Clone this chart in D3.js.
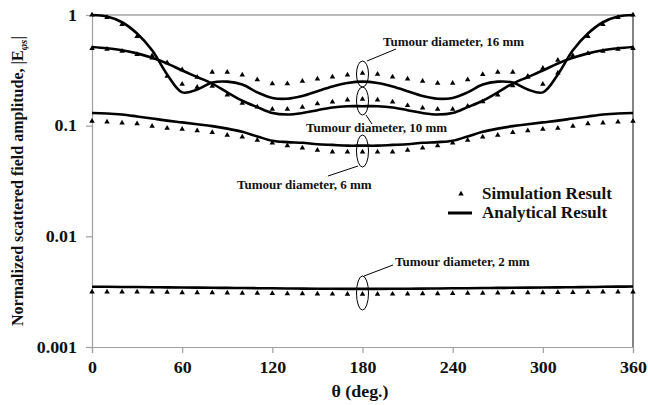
<!DOCTYPE html>
<html>
<head>
<meta charset="utf-8">
<script src="https://cdn.jsdelivr.net/npm/d3@7"></script>
<style>
  body { margin: 0; background: #fff; }
  svg { display: block; }
</style>
</head>
<body>
<svg></svg>
<script>
const width = 648;
const height = 405;
const svg = d3.select("svg").attr("width", width).attr("height", height);

// angles of the samples (deg.)
const theta = [0, 10, 20, 30, 40, 50, 60, 70, 80, 90, 100, 110, 120, 130, 140, 150, 160, 170, 180,
  190, 200, 210, 220, 230, 240, 250, 260, 270, 280, 290, 300, 310, 320, 330, 340, 350, 360];

// analytical result, per tumour diameter
const an16 = [1.0, 0.97, 0.86, 0.68, 0.48, 0.29, 0.2, 0.212, 0.245, 0.25, 0.235, 0.2, 0.178, 0.175, 0.185, 0.205, 0.226, 0.243, 0.25,
  0.243, 0.226, 0.205, 0.185, 0.175, 0.178, 0.2, 0.235, 0.25, 0.245, 0.212, 0.2, 0.29, 0.48, 0.68, 0.86, 0.97, 1.0];
const an10 = [0.514, 0.5, 0.48, 0.45, 0.41, 0.365, 0.315, 0.275, 0.24, 0.2, 0.168, 0.147, 0.13, 0.126, 0.13, 0.138, 0.146, 0.15, 0.15,
  0.15, 0.146, 0.138, 0.13, 0.126, 0.13, 0.147, 0.168, 0.2, 0.24, 0.275, 0.315, 0.365, 0.41, 0.45, 0.48, 0.5, 0.514];
const an6 = [0.13, 0.129, 0.126, 0.121, 0.116, 0.111, 0.107, 0.103, 0.099, 0.094, 0.088, 0.08, 0.073, 0.071, 0.07, 0.068, 0.067, 0.066, 0.066,
  0.066, 0.067, 0.068, 0.07, 0.071, 0.073, 0.08, 0.088, 0.094, 0.099, 0.103, 0.107, 0.111, 0.116, 0.121, 0.126, 0.129, 0.13];
const an2 = [0.0035, 0.0035, 0.00349, 0.00348, 0.00347, 0.00346, 0.00345, 0.00344, 0.00343, 0.00342, 0.00341, 0.0034, 0.00339, 0.00338, 0.00337, 0.00336, 0.00336, 0.00335, 0.00335,
  0.00335, 0.00336, 0.00336, 0.00337, 0.00338, 0.00339, 0.0034, 0.00341, 0.00342, 0.00343, 0.00344, 0.00345, 0.00346, 0.00347, 0.00348, 0.0035, 0.00351, 0.00352];

// simulation result, per tumour diameter
const sim16 = [1.0, 0.95, 0.82, 0.64, 0.43, 0.28, 0.237, 0.223, 0.305, 0.305, 0.287, 0.26, 0.24, 0.24, 0.252, 0.264, 0.276, 0.288, 0.298,
  0.292, 0.276, 0.264, 0.253, 0.242, 0.242, 0.26, 0.29, 0.305, 0.305, 0.275, 0.237, 0.3, 0.43, 0.64, 0.82, 0.95, 1.0];
const sim10 = [0.5, 0.49, 0.47, 0.44, 0.41, 0.37, 0.32, 0.275, 0.228, 0.19, 0.16, 0.148, 0.141, 0.141, 0.147, 0.158, 0.164, 0.171, 0.174,
  0.171, 0.164, 0.152, 0.145, 0.141, 0.141, 0.15, 0.165, 0.19, 0.23, 0.28, 0.33, 0.39, 0.42, 0.45, 0.47, 0.49, 0.5];
const sim6 = [0.11, 0.108, 0.106, 0.104, 0.099, 0.095, 0.093, 0.09, 0.087, 0.082, 0.079, 0.074, 0.07, 0.066, 0.063, 0.06, 0.058, 0.058, 0.058,
  0.058, 0.058, 0.06, 0.063, 0.066, 0.07, 0.074, 0.079, 0.082, 0.087, 0.09, 0.093, 0.095, 0.099, 0.104, 0.106, 0.108, 0.11];
const sim2 = [0.00315, 0.00315, 0.00315, 0.00315, 0.00314, 0.00313, 0.0031, 0.0031, 0.0031, 0.00308, 0.00307, 0.00306, 0.00305, 0.00304, 0.00303, 0.00302, 0.00301, 0.003, 0.003,
  0.003, 0.00301, 0.00302, 0.00303, 0.00304, 0.00305, 0.00306, 0.00307, 0.00308, 0.0031, 0.0031, 0.0031, 0.00311, 0.00312, 0.00313, 0.00314, 0.00315, 0.00315];

const xTicks = [0, 60, 120, 180, 240, 300, 360];
const yTicks = [1, 0.1, 0.01, 0.001];

const annotations = [
  { label: "Tumour diameter, 16 mm", at: 180, cy: 74, ry: 13, line: [[367, 61], [396, 49]], tx: 383, ty: 46 },
  { label: "Tumour diameter, 10 mm", at: 180, cy: 101, ry: 14, line: [[366, 115], [372, 124]], tx: 306, ty: 132 },
  { label: "Tumour diameter, 6 mm", at: 180, cy: 151, ry: 16, line: [[358, 166], [328, 176]], tx: 237, ty: 189 },
  { label: "Tumour diameter, 2 mm", at: 180, cy: 293, ry: 17, line: [[364, 276], [393, 265]], tx: 395, ty: 266 },
];

const margin = { top: 15, right: 15, bottom: 58, left: 92 };
const serif = "'Liberation Serif', 'Times New Roman', serif";

const x = d3.scaleLinear().domain([0, 360]).range([margin.left, width - margin.right]);
const y = d3.scaleLog().domain([0.001, 1]).range([height - margin.bottom, margin.top]);

// frame: top and right border
svg.append("line")
  .attr("x1", x(0)).attr("x2", x(360)).attr("y1", y(1)).attr("y2", y(1))
  .attr("stroke", "#777").attr("stroke-width", 1.2);
svg.append("line")
  .attr("x1", x(360)).attr("x2", x(360)).attr("y1", y(1)).attr("y2", y(0.001))
  .attr("stroke", "#333").attr("stroke-width", 1.2);

// stretch tick text a little, like the reference
const stretch = (sel) => {
  sel.each(function () {
    const t = d3.select(this);
    const tx = +t.attr("x") || 0;
    const ty = +t.attr("y") || 0;
    t.attr("x", 0).attr("y", 0).attr("transform", `translate(${tx},${ty}) scale(1.12,1)`);
  });
};

const xAxis = svg.append("g")
  .attr("transform", `translate(0,${height - margin.bottom})`)
  .call(d3.axisBottom(x).tickValues(xTicks).tickSize(6).tickPadding(9).tickFormat(d3.format("d")));
const yAxis = svg.append("g")
  .attr("transform", `translate(${margin.left},0)`)
  .call(d3.axisLeft(y).tickValues(yTicks).tickSize(6).tickPadding(9).tickFormat((d) => String(d)));

[xAxis, yAxis].forEach((g) => {
  g.select(".domain").attr("stroke", "#a0a0a0").attr("stroke-width", 1.2);
  g.selectAll(".tick line").attr("stroke", "#a0a0a0").attr("stroke-width", 1.2);
  g.selectAll(".tick text")
    .attr("font-family", serif)
    .attr("font-weight", "bold")
    .attr("font-size", 16)
    .attr("fill", "#111");
});
yAxis.selectAll(".tick text").attr("x", -15);
stretch(xAxis.selectAll(".tick text"));
stretch(yAxis.selectAll(".tick text"));

// axis titles
svg.append("text")
  .attr("transform", "translate(360,397) scale(1.12,1)")
  .attr("text-anchor", "middle")
  .attr("font-family", serif).attr("font-weight", "bold").attr("font-size", 16).attr("fill", "#111")
  .text("θ (deg.)");

const yTitle = svg.append("text")
  .attr("transform", "translate(23,181) rotate(-90)")
  .attr("text-anchor", "middle")
  .attr("font-family", serif).attr("font-weight", "bold").attr("font-size", 16).attr("fill", "#111");
yTitle.append("tspan").text("Normalized scattered field amplitude, |E");
yTitle.append("tspan").attr("font-size", 11).attr("font-style", "italic").attr("dy", 4).text("φs");
yTitle.append("tspan").attr("dy", -4).text("|");

// analytical lines
const line = d3.line()
  .x((d, i) => x(theta[i]))
  .y((d) => y(d))
  .curve(d3.curveCatmullRom.alpha(0.5));

[an16, an10, an6, an2].forEach((series) => {
  svg.append("path")
    .datum(series)
    .attr("fill", "none")
    .attr("stroke", "#000")
    .attr("stroke-width", 2.6)
    .attr("d", line);
});

// simulation markers
const tri = d3.symbol().type(d3.symbolTriangle).size(13);
[sim16, sim10, sim6, sim2].forEach((series) => {
  svg.append("g")
    .selectAll("path")
    .data(series)
    .join("path")
    .attr("transform", (d, i) => `translate(${x(theta[i])},${y(d)})`)
    .attr("d", tri)
    .attr("fill", "#000");
});

// annotations
annotations.forEach((a) => {
  svg.append("ellipse")
    .attr("cx", x(a.at)).attr("cy", a.cy).attr("rx", 6).attr("ry", a.ry)
    .attr("fill", "none").attr("stroke", "#000").attr("stroke-width", 1);
  svg.append("line")
    .attr("x1", a.line[0][0]).attr("y1", a.line[0][1])
    .attr("x2", a.line[1][0]).attr("y2", a.line[1][1])
    .attr("stroke", "#000").attr("stroke-width", 1);
  svg.append("text")
    .attr("x", a.tx).attr("y", a.ty)
    .attr("font-family", serif).attr("font-weight", "bold").attr("font-size", 13).attr("fill", "#111")
    .text(a.label);
});

// legend
const legend = svg.append("g");
legend.append("path")
  .attr("transform", "translate(461,194)")
  .attr("d", tri)
  .attr("fill", "#000");
legend.append("text")
  .attr("x", 482).attr("y", 199)
  .attr("font-family", serif).attr("font-weight", "bold").attr("font-size", 17).attr("fill", "#111")
  .text("Simulation Result");
legend.append("line")
  .attr("x1", 448).attr("x2", 472).attr("y1", 213).attr("y2", 213)
  .attr("stroke", "#000").attr("stroke-width", 3);
legend.append("text")
  .attr("x", 482).attr("y", 218)
  .attr("font-family", serif).attr("font-weight", "bold").attr("font-size", 17).attr("fill", "#111")
  .text("Analytical Result");
</script>
</body>
</html>
